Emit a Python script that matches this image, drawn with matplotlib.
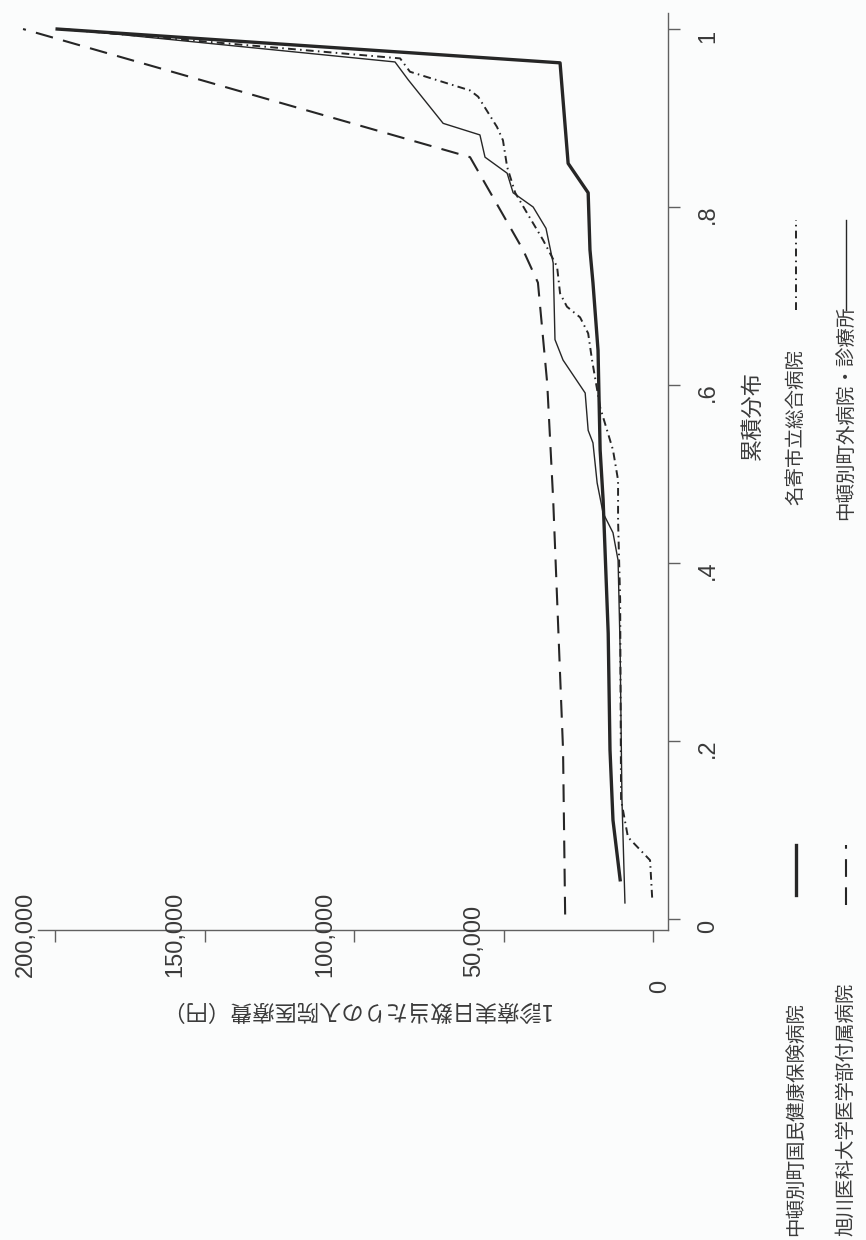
import matplotlib
matplotlib.use("Agg")
import matplotlib.pyplot as plt
from matplotlib.lines import Line2D
from matplotlib.transforms import blended_transform_factory, offset_copy

plt.rcParams['font.family'] = ['Noto Sans CJK JP', 'DejaVu Sans']

# =========================
# DATA
# =========================
# 中頓別町国民健康保険病院
kokuho_p = [0.044, 0.072, 0.111, 0.19, 0.321, 0.471, 0.527, 0.639, 0.715, 0.752, 0.816, 0.849, 0.962, 1.0]
kokuho_cost = [11000, 12000, 13400, 14400, 15000, 16700, 17700, 18400, 20100, 21100, 21700, 28400, 31100, 199300]

# 旭川医科大学医学部付属病院
idai_p = [0.005, 0.19, 0.471, 0.602, 0.715, 0.752, 0.856, 1.0]
idai_cost = [29400, 30100, 33400, 35400, 38500, 43500, 61200, 210700]

# 名寄市立総合病院
nayoro_p = [0.024, 0.066, 0.092, 0.134, 0.358, 0.448, 0.493, 0.527, 0.575, 0.628, 0.658, 0.676, 0.688,
            0.703, 0.733, 0.763, 0.793, 0.816, 0.845, 0.875, 0.890, 0.924, 0.931, 0.952, 0.967, 1.0]
nayoro_cost = [300, 1000, 8400, 10700, 11000, 11700, 11700, 13400, 17700, 20400, 21700, 24400, 28800,
               31100, 32100, 36800, 42100, 46100, 48800, 50200, 52200, 58500, 61200, 81300, 84600, 198300]

# 中頓別町外病院・診療所
soto_p = [0.018, 0.134, 0.302, 0.403, 0.434, 0.456, 0.490, 0.535, 0.549, 0.591, 0.628, 0.651, 0.737,
          0.776, 0.800, 0.816, 0.838, 0.856, 0.881, 0.894, 0.943, 0.963, 1.0]
soto_cost = [9400, 10400, 11000, 11700, 13400, 16700, 18700, 20100, 21700, 22700, 30100, 32800, 33400,
             35800, 40100, 46800, 48800, 56200, 57900, 70200, 81900, 86300, 196600]

cost_ticks = [0, 50000, 100000, 150000, 200000]
cost_labels = ["0", "50,000", "100,000", "150,000", "200,000"]
p_ticks = [0, 0.2, 0.4, 0.6, 0.8, 1.0]
p_labels = ["0", ".2", ".4", ".6", ".8", "1"]

names = ["中頓別町国民健康保険病院", "旭川医科大学医学部付属病院", "名寄市立総合病院", "中頓別町外病院・診療所"]
x_title = "累積分布"
y_title = "1診療実日数当たりの入院医療費（円）"

# =========================
# FIGURE (page is turned 90 degrees)
# =========================
W, H = 866, 1240
fig = plt.figure(figsize=(W / 100, H / 100), dpi=100, facecolor="#fbfcfc")


def fx(x):
    return x / W


def fy(y):
    return 1 - y / H


ax = fig.add_axes([fx(38), fy(930), fx(668) - fx(38), fy(13) - fy(930)])
ax.set_facecolor("#fbfcfc")

line_col = "#262626"
axis_col = "#606060"
text_col = "#3a3a3a"

styles = [
    dict(color=line_col, lw=2.4, ls="-"),
    dict(color=line_col, lw=1.5, ls=(0, (8.5, 5))),
    dict(color=line_col, lw=1.4, ls=(0, (4, 2.2, 0.8, 2.2))),
    dict(color=line_col, lw=1.0, ls="-"),
]
series = [(kokuho_cost, kokuho_p), (idai_cost, idai_p), (nayoro_cost, nayoro_p), (soto_cost, soto_p)]
for (c, p), st in zip(series, styles):
    ax.plot(c, p, clip_on=False, **st)

ax.set_xlim(205700, -5000)
ax.set_ylim(-0.0124, 1.018)

for s in ["top", "left"]:
    ax.spines[s].set_visible(False)
for s in ["right", "bottom"]:
    ax.spines[s].set_color(axis_col)
    ax.spines[s].set_linewidth(1.0)

ax.yaxis.tick_right()
ax.set_yticks(p_ticks)
ax.set_xticks(cost_ticks)
ax.tick_params(axis="both", direction="out", length=8.6, width=1.0, color=axis_col,
               labelbottom=False, labelright=False, labelleft=False)

# tick labels, turned with the page
num_font = dict(family=["Liberation Sans", "DejaVu Sans"], fontsize=17, color=text_col)
tr_x = blended_transform_factory(ax.transData, fig.transFigure)
for v, lab in zip(cost_ticks, cost_labels):
    if v == 0:
        t = offset_copy(tr_x, fig=fig, x=7, y=0, units="dots")
        ax.text(v, fy(993), lab, transform=t, rotation=90, ha="center", va="bottom", **num_font)
    else:
        t = offset_copy(tr_x, fig=fig, x=-29, y=0, units="dots")
        ax.text(v, fy(977), lab, transform=t, rotation=90, ha="center", va="bottom", **num_font)

tr_y = blended_transform_factory(fig.transFigure, ax.transData)
t = offset_copy(tr_y, fig=fig, x=0, y=-7, units="dots")
for v, lab in zip(p_ticks, p_labels):
    ax.text(fx(697), v, lab, transform=t, rotation=90, ha="left", va="center", **num_font)

# axis titles
fig.text(fx(355), fy(1010), y_title, rotation=180, ha="center", va="center",
         fontsize=16, color=text_col)
fig.text(fx(752), fy(415), x_title, rotation=90, ha="center", va="center",
         fontsize=16, color=text_col)

# legend
leg_font = dict(fontsize=14, color=text_col)
rows = [
    (796, 1236, 845, 895, names[0], styles[0]),
    (846, 1236, 845, 905, names[1], styles[1]),
    (796, 505, 220, 310, names[2], styles[2]),
    (846, 520, 220, 310, names[3], styles[3]),
]
for x, ybot, k0, k1, name, st in rows:
    fig.text(fx(x), fy(ybot), name, rotation=90, ha="center", va="bottom", **leg_font)
    fig.add_artist(Line2D([fx(x), fx(x)], [fy(k1), fy(k0)], transform=fig.transFigure, **st))

fig.savefig("out.png", dpi=100, facecolor=fig.get_facecolor())
